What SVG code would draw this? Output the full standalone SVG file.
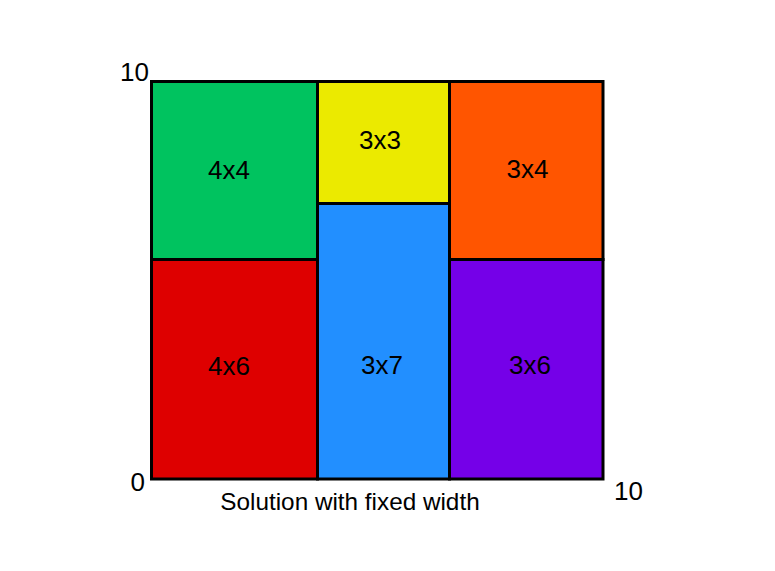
<svg xmlns="http://www.w3.org/2000/svg" width="775" height="571" viewBox="0 0 775 571">
<style>
.cell{stroke:#000;stroke-width:3}
.lbl{font-family:"Liberation Sans",Arial,sans-serif;font-size:26px;fill:#000;text-anchor:middle}
.ax{font-family:"Liberation Sans",Arial,sans-serif;font-size:26px;fill:#000}
</style>
<rect width="775" height="571" fill="#fff"/>
<g id="n4x4"><rect class="cell" x="151.5" y="81.5" width="166" height="178" fill="#00c35f"/><text class="lbl" x="229" y="179">4x4</text></g>
<g id="n3x3"><rect class="cell" x="317.5" y="81.5" width="132" height="122" fill="#ebea00"/><text class="lbl" x="380" y="149">3x3</text></g>
<g id="n3x4"><rect class="cell" x="449.5" y="81.5" width="153.5" height="178" fill="#ff5500"/><text class="lbl" x="527.5" y="178">3x4</text></g>
<g id="n4x6"><rect class="cell" x="151.5" y="259.5" width="166" height="219.5" fill="#de0000"/><text class="lbl" x="229" y="375">4x6</text></g>
<g id="n3x7"><rect class="cell" x="317.5" y="203.5" width="132" height="275.5" fill="#228fff"/><text class="lbl" x="382" y="374">3x7</text></g>
<g id="n3x6"><rect class="cell" x="449.5" y="259.5" width="153.5" height="219.5" fill="#7500e8"/><text class="lbl" x="530" y="374">3x6</text></g>
<g id="connectors"></g>
<text class="ax" x="149" y="81" text-anchor="end">10</text>
<text class="ax" x="145" y="491" text-anchor="end">0</text>
<text class="ax" x="614" y="500">10</text>
<text class="lbl" style="font-size:24.3px" x="350" y="510">Solution with fixed width</text>
</svg>
